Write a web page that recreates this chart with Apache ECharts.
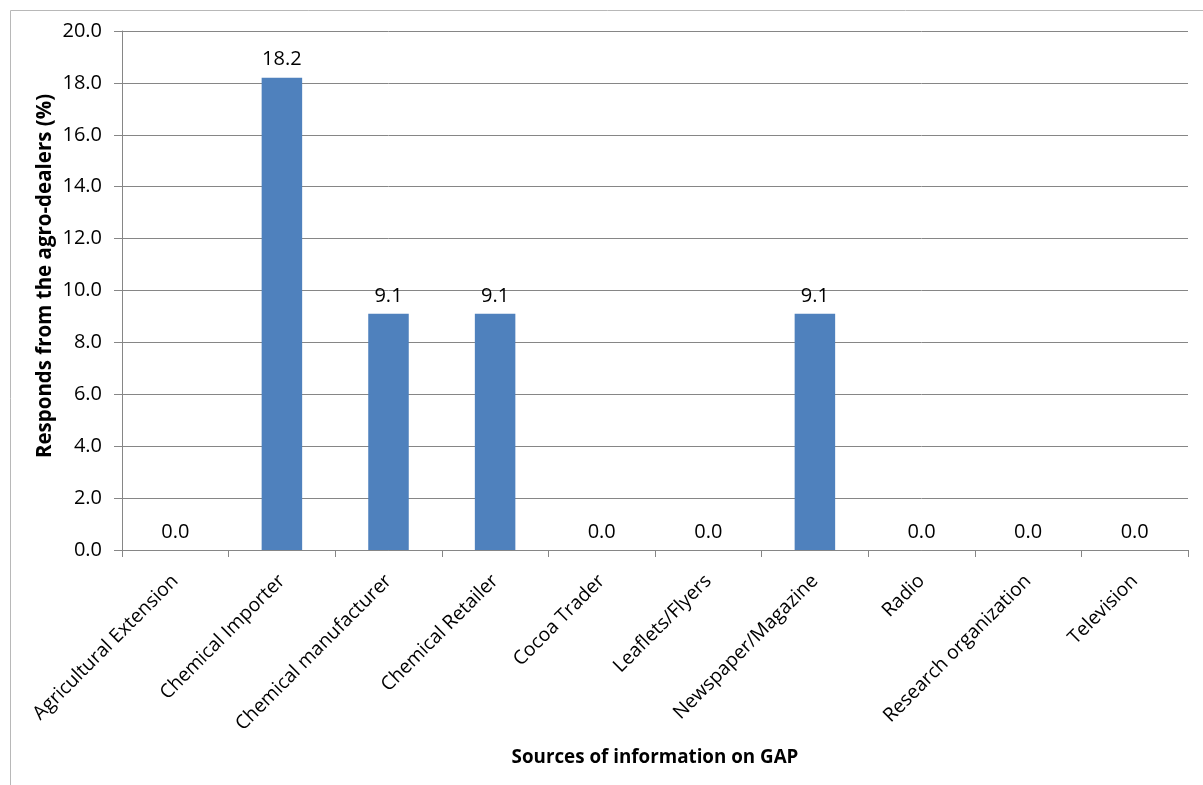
<!DOCTYPE html>
<html>
<head>
<meta charset="utf-8">
<script src="https://cdn.jsdelivr.net/npm/echarts@6/dist/echarts.min.js"></script>
<style>
  html, body { margin: 0; padding: 0; background: #fff; }
  #chart { width: 1203px; height: 785px; }
</style>
</head>
<body>
<div id="chart"></div>
<script>
// Sources of GAP information reported by agro-dealers
const categories = [
  'Agricultural Extension',
  'Chemical Importer',
  'Chemical manufacturer',
  'Chemical Retailer',
  'Cocoa Trader',
  'Leaflets/Flyers',
  'Newspaper/Magazine',
  'Radio',
  'Research organization',
  'Television'
];
const responses = [0.0, 18.2, 9.1, 9.1, 0.0, 0.0, 9.1, 0.0, 0.0, 0.0];
const yTicks = [0, 2, 4, 6, 8, 10, 12, 14, 16, 18, 20];
const xTitle = 'Sources of information on GAP';
const yTitle = 'Responds from the agro-dealers (%)';

const FONT = 'Open Sans';
const GRID_GREY = '#868686';

const chart = echarts.init(document.getElementById('chart'));
chart.setOption({
  animation: false,
  textStyle: { fontFamily: FONT },
  graphic: [{
    type: 'rect',
    left: 8, top: 8,
    shape: { width: 1400, height: 1000 },
    style: { fill: 'none', stroke: '#b8b8b8', lineWidth: 1 },
    silent: true
  }, {
    // vertical axis title
    type: 'text',
    x: 45, y: 276,
    rotation: Math.PI / 2,
    style: {
      text: yTitle,
      fontFamily: FONT,
      fontWeight: 'bold',
      fontSize: 20.5,
      fill: '#000',
      align: 'center',
      verticalAlign: 'middle'
    },
    silent: true
  }],
  grid: { left: 122, right: 15, top: 31, bottom: 235 },
  xAxis: {
    type: 'category',
    data: categories,
    boundaryGap: true,
    name: xTitle,
    nameLocation: 'middle',
    nameGap: 198,
    nameTextStyle: { fontFamily: FONT, fontWeight: 'bold', fontSize: 18.8, color: '#000' },
    axisLine: { lineStyle: { color: GRID_GREY, width: 1 } },
    axisTick: { show: true, length: 7, lineStyle: { color: GRID_GREY } },
    axisLabel: {
      interval: 0,
      rotate: 45,
      margin: 28,
      fontSize: 19.3,
      color: '#000',
      fontFamily: FONT
    },
    splitLine: { show: false }
  },
  yAxis: {
    type: 'value',
    min: yTicks[0],
    max: yTicks[yTicks.length - 1],
    interval: yTicks[1] - yTicks[0],
    axisLine: { show: true, lineStyle: { color: GRID_GREY, width: 1 } },
    axisTick: { show: true, length: 8, lineStyle: { color: GRID_GREY } },
    axisLabel: {
      margin: 20,
      fontSize: 20,
      color: '#000',
      fontFamily: FONT,
      formatter: v => v.toFixed(1)
    },
    splitLine: { show: true, lineStyle: { color: GRID_GREY, width: 1 } }
  },
  series: [{
    type: 'bar',
    data: responses,
    barWidth: '38%',
    itemStyle: { color: '#4F81BD' },
    label: {
      show: true,
      position: 'top',
      distance: 8,
      fontSize: 20,
      color: '#000',
      fontFamily: FONT,
      formatter: p => p.value.toFixed(1)
    }
  }]
});
</script>
</body>
</html>
